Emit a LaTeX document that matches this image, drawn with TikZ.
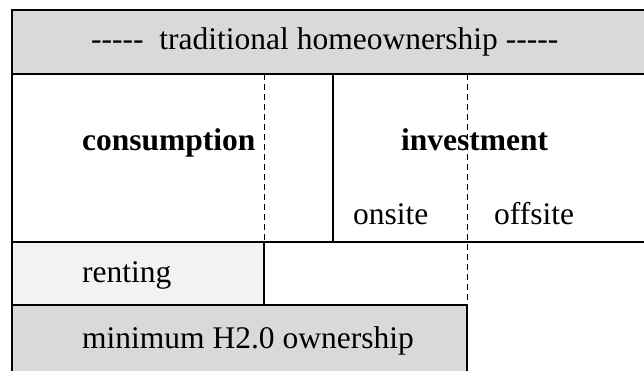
\documentclass[tikz,border=0pt]{standalone}
\usepackage{fontspec}
\setmainfont{Liberation Serif}
\definecolor{darkfill}{HTML}{D9D9D9}
\definecolor{lightfill}{HTML}{F2F2F2}
\newcommand{\hyph}{-\kern0pt-\kern0pt-\kern0pt-\kern0pt-}
\begin{document}
\begin{tikzpicture}[x=1pt,y=-1pt,
  solidline/.style={line width=2.8pt},
  dashline/.style={line width=1pt,dash pattern=on 6pt off 4pt},
  lbl/.style={inner sep=0pt,anchor=base west,font=\fontsize{31.5}{36}\selectfont},
  blbl/.style={lbl,font=\fontsize{31.5}{36}\selectfont\bfseries}]
\useasboundingbox (0,0) rectangle (644,370);
% fills
\fill[darkfill] (12,10) rectangle (660,74);
\fill[lightfill] (12,242) rectangle (264,305);
\fill[darkfill] (12,305) rectangle (467,380);
% coordinates
\coordinate (tl) at (12,10);
\coordinate (tr) at (660,10);
\coordinate (r1l) at (12,74);
\coordinate (r1r) at (660,74);
\coordinate (r2l) at (12,242);
\coordinate (r2r) at (660,242);
\coordinate (r3l) at (12,305);
\coordinate (r3r) at (467,305);
\coordinate (bl) at (12,380);
\coordinate (br) at (467,380);
\coordinate (ma) at (333,74);
\coordinate (mb) at (333,242);
\coordinate (ra) at (264,242);
\coordinate (rb) at (264,305);
\coordinate (da) at (264,74);
\coordinate (db) at (264,242);
\coordinate (ea) at (467,74);
\coordinate (eb) at (467,305);
% dashed
\draw[dashline] (da) -- (db);
\draw[dashline] (ea) -- (eb);
% solid
\draw[solidline] (tr) -- (tl) -- (bl);
\draw[solidline] (r1l) -- (r1r);
\draw[solidline] (r2l) -- (r2r);
\draw[solidline] (r3l) -- (r3r) -- (br);
\draw[solidline] (ma) -- (mb);
\draw[solidline] (ra) -- (rb);
% texts
\node[lbl] (title) at (91,49) {\hyph\ \ traditional homeownership \hyph};
\node[blbl] (cons) at (82,150) {consumption};
\node[blbl] (inv) at (401,150) {investment};
\node[lbl] (on) at (353,224) {onsite};
\node[lbl] (off) at (494,224) {offsite};
\node[lbl] (rent) at (82,282) {renting};
\node[lbl] (min) at (82,348) {minimum H2.0 ownership};
\end{tikzpicture}
\end{document}
